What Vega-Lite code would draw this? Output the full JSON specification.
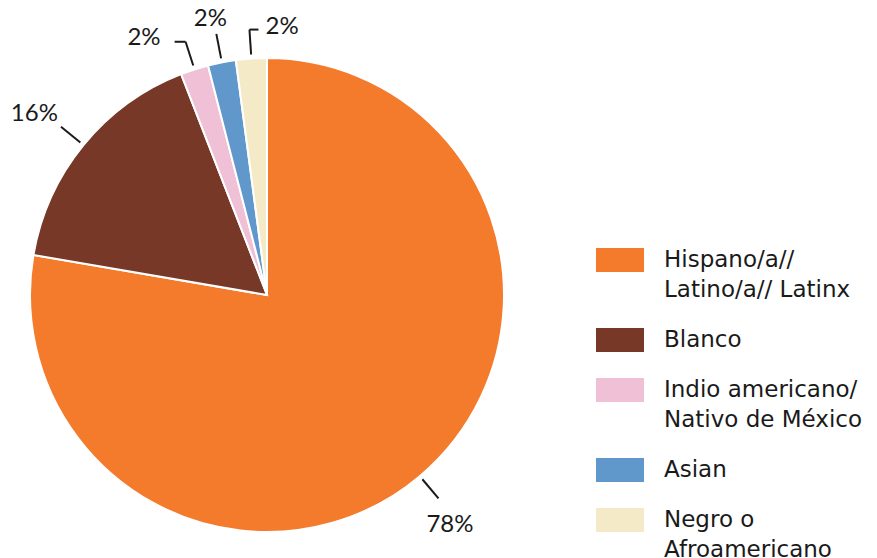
{
  "$schema": "https://vega.github.io/schema/vega-lite/v6.json",
  "width": 534,
  "height": 526,
  "padding": {"top": 32, "left": 0, "right": 343, "bottom": 0},
  "autosize": {"type": "none"},
  "background": "white",
  "config": {
    "view": {"stroke": null},
    "style": {"guide-label": {"lineHeight": 30}}
  },
  "data": {
    "values": [
      {"group": "Hispano/a// Latino/a// Latinx", "value": 77.7, "label": "78%"},
      {"group": "Blanco", "value": 16.4, "label": "16%"},
      {"group": "Indio americano/ Nativo de México", "value": 1.9, "label": "2%"},
      {"group": "Asian", "value": 1.9, "label": "2%"},
      {"group": "Negro o Afroamericano", "value": 2.1, "label": "2%"}
    ]
  },
  "transform": [
    {"window": [{"op": "row_number", "as": "i"}]},
    {"stack": "value", "groupby": [], "sort": [{"field": "i"}], "as": ["start", "end"]},
    {"joinaggregate": [{"op": "sum", "field": "value", "as": "total"}]},
    {"calculate": "PI * (datum.start + datum.end) / datum.total", "as": "ang"},
    {"calculate": "241 * sin(datum.ang)", "as": "ix"},
    {"calculate": "241 * cos(datum.ang)", "as": "iy"},
    {"calculate": "266 * sin(datum.ang)", "as": "ox"},
    {"calculate": "266 * cos(datum.ang)", "as": "oy"},
    {"calculate": "290 * sin(datum.ang)", "as": "lx"},
    {"calculate": "290 * cos(datum.ang)", "as": "ly"}
  ],
  "layer": [
    {
      "mark": {"type": "arc", "outerRadius": 237, "stroke": "white", "strokeWidth": 2},
      "encoding": {
        "theta": {"field": "start", "type": "quantitative", "stack": null, "scale": {"domain": [0, 100]}},
        "theta2": {"field": "end"},
        "color": {
          "field": "group",
          "type": "nominal",
          "scale": {
            "domain": ["Hispano/a// Latino/a// Latinx", "Blanco", "Indio americano/ Nativo de México", "Asian", "Negro o Afroamericano"],
            "range": ["#F47A2C", "#773827", "#F0C0D6", "#6098CB", "#F5EAC8"]
          },
          "legend": {
            "title": null,
            "orient": "none",
            "legendX": 596,
            "legendY": 204,
            "symbolType": "M-1,-0.5H1V0.5H-1Z",
            "symbolSize": 2304,
            "symbolStrokeWidth": 0,
            "symbolOpacity": 1,
            "labelFont": "DejaVu Sans",
            "labelFontSize": 23,
            "labelColor": "#1a1a1a",
            "labelOffset": 20,
            "labelLimit": 400,
            "rowPadding": 14,
            "labelExpr": "datum.label == 'Hispano/a// Latino/a// Latinx' ? ['Hispano/a//', 'Latino/a// Latinx'] : datum.label == 'Indio americano/ Nativo de México' ? ['Indio americano/', 'Nativo de México'] : datum.label == 'Negro o Afroamericano' ? ['Negro o', 'Afroamericano'] : datum.label"
          }
        }
      }
    },
    {
      "mark": {"type": "rule", "color": "#1a1a1a", "strokeWidth": 2},
      "encoding": {
        "x": {"field": "ix", "type": "quantitative", "scale": {"domain": [-267, 267], "nice": false, "zero": false}, "axis": null},
        "y": {"field": "iy", "type": "quantitative", "scale": {"domain": [-263, 263], "nice": false, "zero": false}, "axis": null},
        "x2": {"field": "ox"},
        "y2": {"field": "oy"}
      }
    },
    {
      "transform": [
        {"filter": "datum.i == 3"},
        {"calculate": "datum.ox - 11", "as": "hx"}
      ],
      "mark": {"type": "rule", "color": "#1a1a1a", "strokeWidth": 2},
      "encoding": {
        "x": {"field": "ox", "type": "quantitative"},
        "x2": {"field": "hx"},
        "y": {"field": "oy", "type": "quantitative"}
      }
    },
    {
      "transform": [
        {"filter": "datum.i == 5"},
        {"calculate": "datum.ox + 9", "as": "hx"}
      ],
      "mark": {"type": "rule", "color": "#1a1a1a", "strokeWidth": 2},
      "encoding": {
        "x": {"field": "ox", "type": "quantitative"},
        "x2": {"field": "hx"},
        "y": {"field": "oy", "type": "quantitative"}
      }
    },
    {
      "transform": [{"filter": "datum.i == 1"}],
      "mark": {"type": "text", "font": "Lato", "fontSize": 24, "color": "#1a1a1a", "align": "center", "baseline": "middle", "dx": -4, "dy": 8},
      "encoding": {
        "x": {"field": "lx", "type": "quantitative"},
        "y": {"field": "ly", "type": "quantitative"},
        "text": {"field": "label"}
      }
    },
    {
      "transform": [{"filter": "datum.i == 2"}],
      "mark": {"type": "text", "font": "Lato", "fontSize": 24, "color": "#1a1a1a", "align": "center", "baseline": "middle", "dx": -8, "dy": 2},
      "encoding": {
        "x": {"field": "lx", "type": "quantitative"},
        "y": {"field": "ly", "type": "quantitative"},
        "text": {"field": "label"}
      }
    },
    {
      "transform": [{"filter": "datum.i == 3"}],
      "mark": {"type": "text", "font": "Lato", "fontSize": 24, "color": "#1a1a1a", "align": "right", "baseline": "middle", "dx": -25, "dy": -4},
      "encoding": {
        "x": {"field": "ox", "type": "quantitative"},
        "y": {"field": "oy", "type": "quantitative"},
        "text": {"field": "label"}
      }
    },
    {
      "transform": [{"filter": "datum.i == 4"}],
      "mark": {"type": "text", "font": "Lato", "fontSize": 24, "color": "#1a1a1a", "align": "center", "baseline": "middle", "dx": -6, "dy": -15},
      "encoding": {
        "x": {"field": "ox", "type": "quantitative"},
        "y": {"field": "oy", "type": "quantitative"},
        "text": {"field": "label"}
      }
    },
    {
      "transform": [{"filter": "datum.i == 5"}],
      "mark": {"type": "text", "font": "Lato", "fontSize": 24, "color": "#1a1a1a", "align": "left", "baseline": "middle", "dx": 16, "dy": -3},
      "encoding": {
        "x": {"field": "ox", "type": "quantitative"},
        "y": {"field": "oy", "type": "quantitative"},
        "text": {"field": "label"}
      }
    }
  ]
}
